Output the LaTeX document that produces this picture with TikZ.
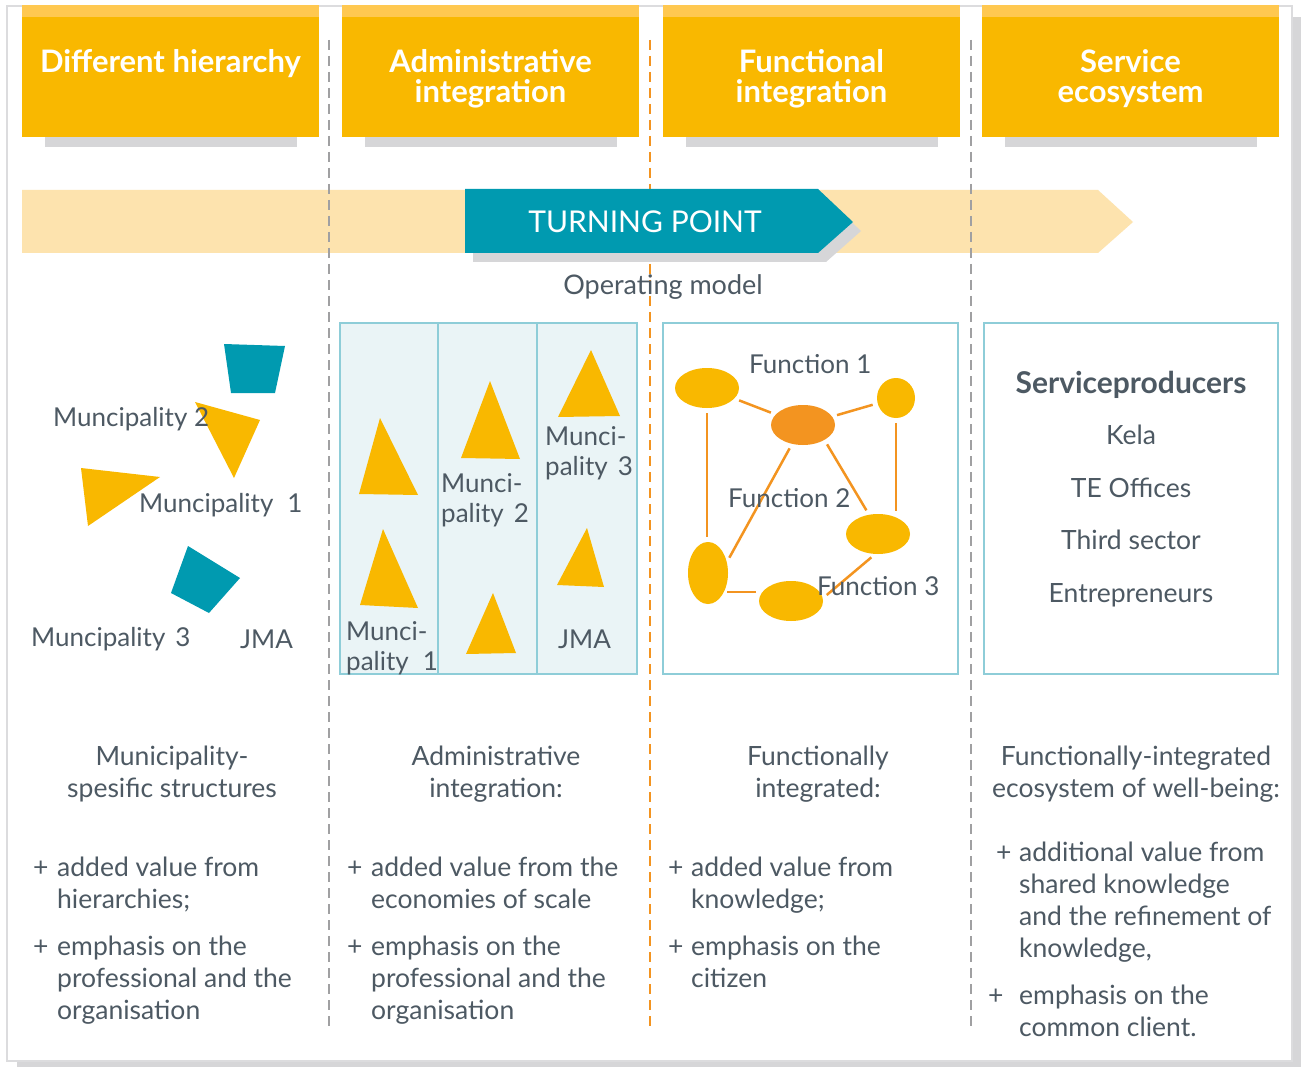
\documentclass[tikz,border=0pt]{standalone}
\usepackage{fontspec}
\setmainfont{Lato}
\usetikzlibrary{shapes.geometric,calc}
\definecolor{ybox}{RGB}{249,184,0}
\definecolor{ylight}{RGB}{255,200,80}
\definecolor{tealc}{RGB}{0,154,176}
\definecolor{peach}{RGB}{253,227,174}
\definecolor{shgray}{RGB}{214,214,216}
\definecolor{framegray}{RGB}{220,220,222}
\definecolor{forange}{RGB}{243,148,32}
\definecolor{boxb}{RGB}{142,205,216}
\definecolor{boxfill}{RGB}{234,244,246}
\definecolor{tgray}{RGB}{77,89,99}
\definecolor{dgray}{RGB}{160,160,162}
\begin{document}
\begin{tikzpicture}[x=1pt,y=-1pt,
  hdrbox/.style={fill=ybox, draw=none, minimum width=297pt, minimum height=132pt, inner sep=0},
  hdrtxt/.style={text=white, font=\fontsize{31}{30}\selectfont\bfseries, align=center, inner sep=0, anchor=north},
  body/.style={text=tgray, font=\fontsize{26.5}{32}\selectfont, inner sep=0, align=left, anchor=north west},
  ttl/.style={text=tgray, font=\fontsize{26.5}{32}\selectfont, inner sep=0, align=center, anchor=north},
  plus/.style={text=tgray, font=\fontsize{26.5}{32}\selectfont, inner sep=0, anchor=base west},
  lab/.style={text=tgray, font=\fontsize{26}{30}\selectfont, inner sep=0, anchor=base west},
  mlab/.style={text=tgray, font=\fontsize{26}{30}\selectfont, inner sep=0, align=left, anchor=north west},
  svc/.style={text=tgray, font=\fontsize{26.5}{30}\selectfont, inner sep=0, anchor=base},
  sepline/.style={line width=2.5pt, dash pattern=on 10pt off 6pt},
  ell/.style={ellipse, fill=ybox, inner sep=0},
  fline/.style={draw=forange, line width=2.5pt, shorten <=5pt, shorten >=5pt},
  colbox/.style={draw=boxb, line width=2.5pt}
]
\useasboundingbox (0,0) rectangle (1301,1067);
% frame
\fill[shgray] (17,17) rectangle (1301,1067);
\draw[framegray, line width=2.5pt, fill=white] (7,6) rectangle (1292,1061);

% headers
\foreach \xa/\xb/\nm in {22/319/h1,342/639/h2,663/960/h3,982/1279/h4}{
  \fill[shgray] (\xa+23,137) rectangle (\xb-22,147);
  \node[hdrbox] (\nm) at ({(\xa+\xb)/2},71) {};
  \fill[ylight] (\xa,5) rectangle (\xb,17);
}
\node[hdrtxt] (t1) at (170.5,49) {Different hierarchy};
\node[hdrtxt] (t2) at (490.5,49) {Administrative\\integration};
\node[hdrtxt] (t3) at (811.5,49) {Functional\\integration};
\node[hdrtxt] (t4) at (1130.5,49) {Service\\ecosystem};

% arrow band
\fill[peach] (22,190) -- (1098,190) -- (1133,222) -- (1098,253) -- (22,253) -- cycle;

% separators
\draw[sepline, dgray] (329,40) -- (329,1032);
\draw[sepline, forange] (650,40) -- (650,1032);
\draw[sepline, dgray] (971,40) -- (971,1032);

% turning point arrow
\fill[shgray] (473,198) -- (826,198) -- (861,231) -- (826,262) -- (473,262) -- cycle;
\fill[tealc] (465,189) -- (818,189) -- (853,222) -- (818,253) -- (465,253) -- cycle;
\node[text=white, font=\fontsize{30}{30}\selectfont, inner sep=0] (tp) at (645,222) {TURNING POINT};
\node[svc, font=\fontsize{27}{30}\selectfont] (om) at (663,295) {Operating model};

% column 1 shapes
\fill[tealc] (224,344) -- (285,346) -- (275,393) -- (231,393) -- cycle;
\fill[ybox] (195,402) -- (260,420) -- (234,478) -- cycle;
\fill[ybox] (81,468) -- (160,477) -- (88,526) -- cycle;
\fill[tealc] (188,546) -- (240,578) -- (209,613) -- (171,593) -- cycle;
\node[lab] (m2) at (53,426) {Muncipality 2};
\node[lab] (m1) at (139,512) {Muncipality\hspace{14pt}1};
\node[lab] (m3) at (31,646) {Muncipality\hspace{10pt}3};
\node[lab] (jma1) at (240,648) {JMA};

% column 2 box
\draw[colbox, fill=boxfill] (340,323) rectangle (637,674);
\draw[colbox] (438,323) -- (438,674);
\draw[colbox] (537,323) -- (537,674);
\fill[ybox] (380,418) -- (359,494) -- (418,495) -- cycle;
\fill[ybox] (383,529) -- (360,605) -- (418,608) -- cycle;
\fill[ybox] (490,381) -- (461,458) -- (520,459) -- cycle;
\fill[ybox] (493,593) -- (466,654) -- (516,653) -- cycle;
\fill[ybox] (591,350) -- (558,417) -- (620,416) -- cycle;
\fill[ybox] (587,528) -- (557,585) -- (604,587) -- cycle;
\node[mlab] (a1) at (346,621) {Munci-\\pality\hspace{14pt}1};
\node[mlab] (a2) at (441,473) {Munci-\\pality\hspace{10pt}2};
\node[mlab] (a3) at (545,426) {Munci-\\pality\hspace{10pt}3};
\node[lab] (jma2) at (558,648) {JMA};

% column 3 box
\draw[colbox, fill=white] (663,323) rectangle (958,674);
\node[ell, minimum width=64pt, minimum height=40pt] (e1) at (707,388) {};
\node[ell, fill=forange, minimum width=64pt, minimum height=40pt] (e2) at (803,425) {};
\node[ell, minimum width=38pt, minimum height=40pt] (e3) at (896,398) {};
\node[ell, minimum width=64pt, minimum height=40pt] (e4) at (878,534) {};
\node[ell, minimum width=40pt, minimum height=62pt] (e5) at (708,573) {};
\node[ell, minimum width=64pt, minimum height=40pt] (e6) at (791,601) {};
\draw[fline] (e1) -- (e2);
\draw[fline] (e2) -- (e3);
\draw[fline] (e1.south) -- (e1.south |- e5.north);
\draw[fline] (e2.240) -- (e5.30);
\draw[fline] (e2.-35) -- (e4.115);
\draw[fline, shorten >=3pt] (e3.south) -- (e3.south |- e4.north);
\draw[fline, shorten <=3pt, shorten >=3pt] (e5.-50) -- (e5.-50 -| e6.west);
\draw[fline] (e6.5) -- (e4.262);
\node[lab] (f1) at (749,373) {Function 1};
\node[lab] (f2) at (728,507) {Function 2};
\node[lab] (f3) at (817,595) {Function 3};

% column 4 box
\draw[colbox, fill=white] (984,323) rectangle (1278,674);
\node[svc, font=\fontsize{30}{30}\selectfont\bfseries] (sp) at (1131,393) {Serviceproducers};
\node[svc] (s1) at (1131,444) {Kela};
\node[svc] (s2) at (1131,497) {TE Offices};
\node[svc] (s3) at (1131,549) {Third sector};
\node[svc] (s4) at (1131,602) {Entrepreneurs};

% bottom titles
\node[ttl] (b1) at (172,746) {Municipality-\\spesific structures};
\node[ttl] (b2) at (496,746) {Administrative\\integration:};
\node[ttl] (b3) at (818,746) {Functionally\\integrated:};
\node[ttl] (b4) at (1136,746) {Functionally-integrated\\ecosystem of well-being:};

% bullets
\node[plus] (p11) at (33,876) {+};
\node[body] (c11) at (57,857) {added value from\\hierarchies;};
\node[plus] (p12) at (33,955) {+};
\node[body] (c12) at (57,936) {emphasis on the\\professional and the\\organisation};
\node[plus] (p21) at (347,876) {+};
\node[body] (c21) at (371,857) {added value from the\\economies of scale};
\node[plus] (p22) at (347,955) {+};
\node[body] (c22) at (371,936) {emphasis on the\\professional and the\\organisation};
\node[plus] (p31) at (668,876) {+};
\node[body] (c31) at (691,857) {added value from\\knowledge;};
\node[plus] (p32) at (668,955) {+};
\node[body] (c32) at (691,936) {emphasis on the\\citizen};
\node[plus] (p41) at (996,861) {+};
\node[body] (c41) at (1019,842) {additional value from\\shared knowledge\\and the refinement of\\knowledge,};
\node[plus] (p42) at (988,1004) {+};
\node[body] (c42) at (1019,985) {emphasis on the\\common client.};
\end{tikzpicture}
\end{document}
